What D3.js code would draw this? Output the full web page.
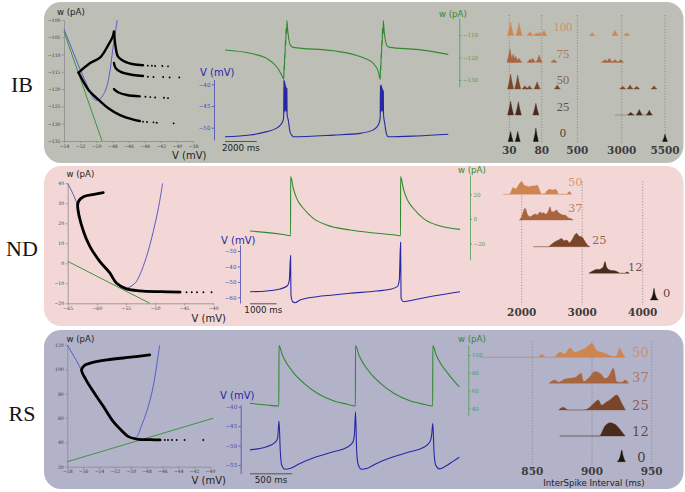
<!DOCTYPE html>
<html><head><meta charset="utf-8">
<script src="https://cdn.jsdelivr.net/npm/d3@7/dist/d3.min.js"></script>
<style>html,body{margin:0;padding:0;background:#fff;}svg{display:block;}</style>
</head><body>
<svg id="chart" width="685" height="492"></svg>
<script>
// ================= DATA =================
const rowNames = ["IB", "ND", "RS"];
const noiseIB = ["100", "75", "50", "25", "0"];
const noiseNDRS = ["50", "37", "25", "12", "0"];

// ---- phase-plane ticks ----
const ibPhaseXTicks = [-54, -52, -50, -48, -46, -44, -42, -40, -38];
const ibPhaseYTicks = [-100, -105, -110, -115, -120, -125, -130, -135];
const ndPhaseXTicks = [-65, -60, -55, -50, -45, -40];
const ndPhaseYTicks = [40, 30, 20, 10, 0, -10, -20];
const rsPhaseXTicks = [-58, -56, -54, -52, -50, -48, -46, -44, -42, -40];
const rsPhaseYTicks = [120, 100, 80, 60, 40, 20];

// ---- IB phase plane [V (mV), w (pA)] ----
const ibVNull = [[-54, -102.7], [-53, -108.5], [-52, -114.3], [-51.2, -118.5], [-50.6, -121.6], [-50.1, -123.2], [-49.6, -123], [-49.1, -121.5], [-48.7, -119.3], [-48.3, -114.8], [-47.96, -108.7], [-47.65, -104], [-47.4, -100]];
const ibWNull = [[-54, -103.4], [-49.28, -135]];
const ibTrajUpper = [[-47.8, -103.4], [-47.96, -104.8], [-48.5, -107.2], [-49.5, -110.8], [-50.8, -112.5], [-52.2, -115.2]];
const ibTrajLower = [[-52.2, -115.2], [-51.6, -117.8], [-50.8, -120.7], [-49.7, -123.1], [-48.5, -125.5], [-47.05, -127.5], [-45.4, -128.8], [-44.6, -129.2]];
const ibBranch1 = [[-47.8, -103.4], [-47.6, -107.7], [-47.3, -110.6], [-46.4, -112.1], [-45.4, -112.8], [-44.2, -113.1]];
const ibBranch2 = [[-47.8, -112.4], [-47.6, -113.9], [-46.9, -115.1], [-45.4, -115.9], [-44.2, -116.2]];
const ibBranch3 = [[-47.8, -120], [-47.3, -120.9], [-46.2, -121.7], [-44.6, -122.1]];
const ibDots = [[-44.2, -129.4], [-43.7, -129.5], [-42.9, -129.6], [-42.5, -129.7], [-40.4, -129.9],
  [-43.6, -113.2], [-43.1, -113.2], [-42.7, -113.3], [-41.8, -113.3], [-41.1, -113.4],
  [-43.6, -116.4], [-42.9, -116.5], [-41.7, -116.5], [-40.9, -116.6], [-39.7, -116.6],
  [-43.9, -122.2], [-43.3, -122.3], [-42.7, -122.4], [-41.6, -122.5], [-41.1, -122.6]];

// ---- ND phase plane ----
const ndVNull = [[-65, 40], [-63.35, 29.5], [-62.4, 16.5], [-61.3, 9], [-59.6, 1.2], [-57.9, -4.6], [-56.7, -9.6], [-55.7, -12], [-55.1, -12.6], [-54.3, -11.8], [-53.3, -9.5], [-52.6, -5.7], [-51.5, 3], [-50.3, 16], [-49.4, 28], [-48.7, 40]];
const ndWNull = [[-65, 1], [-50.9, -20]];
const ndTraj = [[-58.9, 35.3], [-60.5, 34.5], [-62.3, 33.3], [-63.1, 31.2], [-63.3, 29], [-62.3, 16], [-61.2, 8.5], [-59.5, 1], [-57.8, -4.7], [-56.6, -10], [-54.9, -12.8], [-52.6, -13.8], [-49.1, -14.2], [-45.7, -14.4]];
const ndDots = [[-44.6, -14.5], [-43.7, -14.5], [-42.8, -14.5], [-41.7, -14.5], [-40.3, -14.5]];

// ---- RS phase plane ----
const rsVNull = [[-58, 120], [-56.5, 103], [-55.7, 92], [-54.8, 82], [-53.6, 70.5], [-52.3, 57.5], [-51.3, 50.5], [-50.5, 46], [-49.8, 43.6], [-49.3, 44.2], [-48.6, 54.2], [-48, 65], [-47.3, 81.6], [-46.8, 100], [-46.35, 120]];
const rsWNull = [[-58, 24.1], [-39.6, 59.8]];
const rsTraj = [[-47.6, 111.8], [-50, 110], [-53, 107.7], [-55, 105.3], [-55.75, 103.6], [-56.2, 99.5], [-55.6, 91], [-54.7, 81.6], [-53.5, 70], [-52.2, 57], [-51.2, 50], [-50.3, 44.7], [-49, 42.5], [-47.5, 42.2], [-46.3, 42]];
const rsDots = [[-45.7, 42], [-45.3, 42], [-44.8, 42], [-44.2, 42], [-43.2, 42], [-40.85, 42]];

// ---- voltage / adaptation traces [t (ms), value] ----
const ibVTicks = [-40, -45, -50];
const ibWTicks = [-110, -120, -130];
const ibV = [[0, -52.1], [1577, -51.7], [2630, -50.9], [3262, -50.1], [3577, -49], [3700, -47.8],
  [3720, -39], [3732, -46.5], [3760, -39.3], [3772, -46.2], [3800, -39.8], [3812, -46], [3850, -40.5], [3862, -46.3], [3905, -41], [3918, -47],
  [3990, -48.2], [4100, -50.9], [4250, -51.9], [4310, -52.1], [6834, -51.7], [8519, -51.3], [9358, -50.5], [9674, -49.4], [9790, -47.8],
  [9808, -40.2], [9820, -46.5], [9848, -40.2], [9860, -46.2], [9888, -40.5], [9900, -46], [9938, -41], [9950, -46.3], [9990, -41.5], [10003, -47],
  [10080, -49], [10180, -51.3], [10305, -52.1], [12096, -51.9], [14090, -51.5]];
const ibW = [[0, -116.7], [1577, -118.1], [2630, -120.4], [3262, -124.1], [3577, -127.8], [3715, -129.6],
  [3722, -123.5], [3755, -125.5], [3762, -118], [3795, -120], [3802, -112.5], [3840, -114.5], [3847, -107], [3895, -109.5], [3905, -103.6],
  [3960, -108], [4030, -112], [4120, -114.5], [4310, -115.5], [6834, -117], [8519, -119.6], [9358, -122.6], [9674, -126.3], [9800, -129.7],
  [9808, -123.5], [9840, -125.5], [9848, -118], [9880, -120], [9888, -112.5], [9925, -114.5], [9932, -107], [9978, -109.5], [9988, -103.6],
  [10040, -108], [10110, -112], [10200, -114.5], [10400, -115.5], [12096, -116.4], [14090, -118.6]];

const ndVTicks = [-30, -40, -50, -60];
const ndWTicks = [20, 0, -20];
const ndV = [[0, -56.4], [627, -55.9], [1128, -54.6], [1404, -52.5], [1479, -48.8], [1526, -33], [1540, -58.5], [1605, -62.9], [1692, -63.5], [1880, -61.8], [2508, -59.6], [3133, -58.5], [3760, -57.4], [4764, -55.9], [5264, -54.8], [5539, -53.1], [5614, -48.8], [5662, -24.4], [5680, -60.7], [5790, -62.9], [5952, -62.4], [6892, -59.2], [7896, -56.4]];
const ndW = [[0, -10], [1504, -13.8], [1526, -13.9], [1528, 34.4], [1628, 24.9], [1755, 16.7], [2004, 8.6], [2380, 0.4], [2884, -5.1], [3760, -9.1], [4764, -11.8], [5614, -13.8], [5660, -14], [5662, 34.4], [5764, 24.9], [5891, 16.7], [6140, 8.6], [6516, 0.4], [7020, -5.1], [7896, -8.6]];

const rsVTicks = [-40, -45, -50, -55];
const rsWTicks = [100, 80, 60, 40];
const rsV = [[0, -51.1], [198, -50.3], [298, -49.2], [329, -48.1], [345, -43.7], [361, -51.6], [377, -55], [417, -56.1], [476, -55.9], [595, -54.6], [793, -52.9], [992, -51.6], [1150, -50.5], [1222, -49.2], [1242, -47.3], [1256, -41.3], [1270, -51.6], [1289, -55], [1329, -56.1], [1388, -55.9], [1507, -54.6], [1706, -52.9], [1904, -51.6], [2063, -50.5], [2142, -49], [2162, -47.3], [2176, -44.3], [2190, -51.6], [2210, -55], [2253, -56], [2321, -55.4], [2420, -54], [2491, -53]];
const rsW = [[0, 45.6], [198, 43.7], [343, 42.6], [345, 110.5], [385, 100], [444, 89.5], [523, 79.4], [643, 68.1], [801, 56.9], [1000, 48.2], [1158, 44.5], [1254, 42.6], [1256, 110.5], [1296, 100], [1355, 89.5], [1434, 79.4], [1554, 68.1], [1712, 56.9], [1911, 48.2], [2069, 44.5], [2174, 42.6], [2176, 110.5], [2216, 100], [2275, 89.5], [2354, 79.4], [2491, 64]];

const scaleBarsMs = [2000, 1000, 500];

// ---- ISI histograms ----
const ibIsiTicks = [30, 80, 500, 3000, 5500];
const ndIsiTicks = [2000, 3000, 4000];
const rsIsiTicks = [850, 900, 950];

// IB: peaks [ISI (ms), density 0-100]
const ibPeaks100 = [[32, 89], [45, 84], [62, 27], [72, 18], [77, 22], [107, 33], [1330, 18], [2620, 36], [3290, 18]];
const ibPeaks75 = [[31, 89], [36, 55], [40, 40], [45, 27], [62, 22], [66, 27], [76, 49], [225, 18], [2060, 18], [2302, 27], [2620, 18], [2944, 18]];
const ibPeaks50 = [[32, 100], [43, 93], [54, 22], [61, 22], [73, 49], [264, 27], [3058, 18], [3479, 27], [3866, 18], [4865, 22]];
const ibPeaks25 = [[32, 93], [44, 89], [71, 78], [3519, 18], [4015, 36], [4592, 31]];
const ibPeaks0 = [[32, 67], [43, 67], [71, 89], [5500, 49]];
const ibTails = [null, [1780, 3000], null, [2620, 4740], null];
const ibLabelAt = [[331, 27], [331, 32], [331, 33], [331, 27], [331, 27]];

// ND: ridge outlines [ISI (ms), density]
const ndHist50 = [[1696, 0], [1795, 0], [1861, 45], [1900, 35], [1944, 60], [2000, 85], [2040, 60], [2083, 55], [2120, 50], [2165, 55], [2210, 55], [2248, 62], [2280, 45], [2303, 20], [2331, 0], [2386, 5], [2420, 25], [2468, 33], [2510, 28], [2551, 33], [2590, 20], [2605, 0], [2744, 0], [2787, 18], [2826, 0]];
const ndHist37 = [[1960, 0], [1990, 15], [2055, 78], [2100, 35], [2137, 22], [2175, 30], [2220, 40], [2260, 35], [2303, 55], [2330, 45], [2358, 49], [2400, 40], [2440, 60], [2468, 89], [2495, 55], [2523, 55], [2550, 60], [2578, 67], [2605, 50], [2633, 44], [2670, 35], [2716, 33], [2770, 15], [2826, 7], [2853, 0]];
const ndHist25 = [[2192, 0], [2440, 0], [2468, 8], [2520, 25], [2551, 33], [2610, 45], [2661, 55], [2700, 40], [2744, 44], [2787, 27], [2830, 45], [2870, 75], [2908, 89], [2950, 70], [2991, 67], [3040, 40], [3074, 18], [3129, 0]];
const ndHist12 = [[3110, 0], [3157, 12], [3200, 20], [3240, 27], [3280, 25], [3322, 33], [3350, 45], [3377, 78], [3400, 45], [3432, 27], [3470, 20], [3515, 18], [3598, 7], [3625, 0], [3700, 0], [3737, 9], [3780, 0]];
const ndHist0 = [[4121, 0], [4170, 40], [4187, 78], [4205, 40], [4258, 0]];
const ndLabelAt = [[2765, 55], [2765, 55], [3162, 18], [3757, 15], [4336, 22]];

// RS: ridge outlines
const rsHist50 = [[806, 0], [853, 0], [855, 2], [858, 18], [861.5, 0], [868, 0], [873, 33], [877, 22], [881.6, 62], [885.8, 33], [890, 44], [895.6, 67], [899.8, 93], [904, 44], [908, 33], [912, 22], [918, 5], [920.7, 10], [923, 62], [926, 20], [927.7, 0]];
const rsHist37 = [[864, 0], [869, 22], [872, 7], [877, 27], [881.6, 33], [887, 44], [890.8, 67], [893, 11], [897, 33], [902.5, 78], [906.7, 67], [911, 33], [913.7, 44], [918, 100], [920.7, 11], [925, 7], [927.7, 22], [930.5, 0]];
const rsHist25 = [[872, 0], [876, 18], [880, 0], [893, 0], [897, 11], [901, 40], [905.3, 67], [908, 33], [912.4, 55], [915, 67], [920.7, 100], [925, 44], [928, 0]];
const rsHist12 = [[873, 0], [906, 0], [910.9, 67], [915.1, 89], [919.3, 78], [923.5, 44], [927.7, 0]];
const rsHist0 = [[921.2, 0], [923.8, 40], [924.9, 78], [926, 40], [928, 0]];
const rsLabelAt = [[933.6, 3], [933.6, 7], [933.6, 3], [933.6, 3], [937.8, 0]];

// ================= DRAWING =================
const svg = d3.select("#chart");
const SANS = "DejaVu Sans", SERIF = "DejaVu Serif";
const COL = { vnull: "#5a5ac8", wnull: "#3e943e", vtrace: "#2626a6", wtrace: "#2f8a2f", vaxis: "#4848b8", waxis: "#4f9c4f" };
const panelFill = ["#bdbfb7", "#f3d7d6", "#b2b3c8"];
const panelY = [[2, 163], [166, 326], [330, 489]];
const ridgeFill = ["#cf8551", "#a9653f", "#7b4529", "#4b2b1b", "#1d130d"];

// panels
panelY.forEach((py, i) => {
  svg.append("rect").attr("x", 44).attr("y", py[0]).attr("width", 639.5).attr("height", py[1] - py[0])
    .attr("rx", 17).attr("fill", panelFill[i]);
});
// row names
const rowLabelY = [92, 256, 421];
rowNames.forEach((n, i) => {
  svg.append("text").attr("x", 22).attr("y", rowLabelY[i]).attr("text-anchor", "middle")
    .attr("font-family", "Liberation Serif").attr("font-size", 22).attr("fill", "#151515").text(n);
});

const fmtInt = d3.format("d");

function styleAxis(a, color, fam, size) {
  a.attr("font-family", null).attr("font-size", null);
  a.selectAll("path, line").attr("stroke", color).attr("stroke-width", 0.8);
  a.selectAll("text").attr("font-family", fam).attr("font-size", size).attr("fill", color === "#8a8a8a" ? "#3a3a3a" : color);
}

function phasePlane(L, xt, yt, vNull, wNull, trajs, dots, lw) {
  const x = d3.scaleLinear().domain([xt[0], xt[xt.length - 1]]).range(L.xr);
  const y = d3.scaleLinear().domain([yt[yt.length - 1], yt[0]]).range(L.yr);
  const g = svg.append("g");
  const xa = g.append("g").attr("transform", `translate(0,${L.yr[0]})`)
    .call(d3.axisBottom(x).tickValues(xt).tickSize(2).tickSizeOuter(0).tickPadding(1.5).tickFormat(fmtInt));
  const ya = g.append("g").attr("transform", `translate(${L.xr[0]},0)`)
    .call(d3.axisLeft(y).tickValues(yt).tickSize(2).tickSizeOuter(0).tickPadding(1.5).tickFormat(fmtInt));
  styleAxis(xa, "#8a8a8a", SERIF, 4.6);
  styleAxis(ya, "#8a8a8a", SERIF, 4.6);
  const line = d3.line().x(d => x(d[0])).y(d => y(d[1])).curve(d3.curveCatmullRom.alpha(0.5));
  g.append("path").attr("d", line(wNull)).attr("fill", "none").attr("stroke", COL.wnull).attr("stroke-width", 1);
  g.append("path").attr("d", line(vNull)).attr("fill", "none").attr("stroke", COL.vnull).attr("stroke-width", 1);
  trajs.forEach(t => g.append("path").attr("d", line(t)).attr("fill", "none").attr("stroke", "#000")
    .attr("stroke-width", lw).attr("stroke-linecap", "round").attr("stroke-linejoin", "round"));
  g.selectAll(null).data(dots).join("circle").attr("cx", d => x(d[0])).attr("cy", d => y(d[1])).attr("r", 0.95).attr("fill", "#000");
  g.append("text").attr("x", L.wLab[0]).attr("y", L.wLab[1]).attr("font-family", SANS).attr("font-size", 8.6).attr("fill", "#222").text("w (pA)");
  g.append("text").attr("x", L.vLab[0]).attr("y", L.vLab[1]).attr("font-family", SANS).attr("font-size", 10).attr("fill", "#222").text("V (mV)");
}

phasePlane({ xr: [64, 193], yr: [141, 20], wLab: [57, 14.5], vLab: [172, 158.5] }, ibPhaseXTicks, ibPhaseYTicks,
  ibVNull, ibWNull, [ibTrajUpper, ibTrajLower, ibBranch1, ibBranch2, ibBranch3], ibDots, 2.4);
phasePlane({ xr: [67.7, 213.3], yr: [303.3, 183.3], wLab: [66.5, 176.5], vLab: [191.5, 321.5] }, ndPhaseXTicks, ndPhaseYTicks,
  ndVNull, ndWNull, [ndTraj], ndDots, 2.8);
phasePlane({ xr: [67.3, 210], yr: [466.7, 345], wLab: [66.5, 341.5], vLab: [191.5, 483.5] }, rsPhaseXTicks, rsPhaseYTicks,
  rsVNull, rsWNull, [rsTraj], rsDots, 2.8);

function tracePanel(L, vData, wData, vTicks, wTicks, barMs) {
  const x = d3.scaleLinear().domain(L.td).range(L.tr);
  const yv = d3.scaleLinear().domain(L.vd).range(L.vr);
  const yw = d3.scaleLinear().domain(L.wd).range(L.wr);
  const yvA = yv.copy().domain(L.vExt).range(L.vExt.map(yv));
  const ywA = yw.copy().domain(L.wExt).range(L.wExt.map(yw));
  const g = svg.append("g");
  const va = g.append("g").attr("transform", `translate(${L.vAx},0)`)
    .call(d3.axisLeft(yvA).tickValues(vTicks).tickSize(2).tickSizeOuter(0).tickPadding(1.5).tickFormat(fmtInt));
  styleAxis(va, COL.vaxis, SERIF, 5.6);
  const wa = g.append("g").attr("transform", `translate(${L.wAx},0)`)
    .call(d3.axisRight(ywA).tickValues(wTicks).tickSize(2).tickSizeOuter(0).tickPadding(1.5).tickFormat(fmtInt));
  styleAxis(wa, COL.waxis, SERIF, 5.6);
  const lv = d3.line().x(d => x(d[0])).y(d => yv(d[1])).curve(d3.curveMonotoneX);
  const lw = d3.line().x(d => x(d[0])).y(d => yw(d[1])).curve(d3.curveMonotoneX);
  g.append("path").attr("d", lw(wData)).attr("fill", "none").attr("stroke", COL.wtrace).attr("stroke-width", 1.1);
  g.append("path").attr("d", lv(vData)).attr("fill", "none").attr("stroke", COL.vtrace).attr("stroke-width", 1.1);
  g.append("text").attr("x", L.vLab[0]).attr("y", L.vLab[1]).attr("font-family", SANS).attr("font-size", 10).attr("fill", COL.vtrace).text("V (mV)");
  g.append("text").attr("x", L.wLab[0]).attr("y", L.wLab[1]).attr("font-family", SANS).attr("font-size", 8.6).attr("fill", COL.wtrace).text("w (pA)");
  const x0 = x(L.td[0]), x1 = x(L.td[0] + barMs);
  g.append("line").attr("x1", x0).attr("x2", x1).attr("y1", L.barY).attr("y2", L.barY).attr("stroke", "#555").attr("stroke-width", 1);
  g.append("text").attr("x", (x0 + x1) / 2).attr("y", L.barY + 9).attr("text-anchor", "middle")
    .attr("font-family", SANS).attr("font-size", 8.7).attr("fill", "#222").text(barMs + " ms");
}

tracePanel({ td: [0, 14090], tr: [225, 448.3], vd: [-50, -40], vr: [127.7, 84.3], vExt: [-52.8, -38.9], vAx: 214,
  wd: [-130, -110], wr: [80, 35], wExt: [-133.1, -102.4], wAx: 459.3, vLab: [200, 76], wLab: [439, 16.5], barY: 141.5 },
  ibV, ibW, ibVTicks, ibWTicks, scaleBarsMs[0]);
tracePanel({ td: [0, 7896], tr: [250, 460], vd: [-60, -30], vr: [297.3, 251], vExt: [-63.7, -26], vAx: 240,
  wd: [-20, 20], wr: [243.3, 194.3], wExt: [-33.5, 35.8], wAx: 470, vLab: [221, 244], wLab: [458, 172.5], barY: 303.8 },
  ndV, ndW, ndVTicks, ndWTicks, scaleBarsMs[1]);
tracePanel({ td: [0, 2491], tr: [250, 459.3], vd: [-55, -40], vr: [465, 406.7], vExt: [-57.2, -39.5], vAx: 240.7,
  wd: [40, 100], wr: [408.3, 355], wExt: [32, 111], wAx: 468.3, vLab: [220, 399], wLab: [458, 341.5], barY: 473.8 },
  rsV, rsW, rsVTicks, rsWTicks, scaleBarsMs[2]);

// ---- histograms ----
const hScale = d3.scaleLinear().domain([0, 100]).range([0, 15]);

function isiAxis(g, x, ticks, L) {
  ticks.forEach(t => {
    g.append("line").attr("x1", x(t)).attr("x2", x(t)).attr("y1", L.dot[0]).attr("y2", L.dot[1])
      .attr("stroke", "#7a7a7a").attr("stroke-width", 0.8).attr("stroke-dasharray", "1,1.8");
    g.append("text").attr("x", x(t)).attr("y", L.tickY).attr("text-anchor", "middle")
      .attr("font-family", SERIF).attr("font-weight", "bold").attr("font-size", 10.5).attr("fill", "#3c3c3c").text(t);
  });
}

function rowLabel(g, x, L, i, at, txt, anchor, fam, size) {
  g.append("text").attr("x", x(at[0])).attr("y", L.base[i] - hScale(at[1])).attr("text-anchor", anchor)
    .attr("font-family", fam).attr("font-size", size).attr("fill", ridgeFill[i]).attr("fill-opacity", 0.78).text(txt);
}

// IB (broken axis)
(function () {
  const L = { xr: [509.3, 541.7, 577.3, 621.7, 665], base: [35.5, 62.3, 89, 115, 141.5], dot: [15, 143], tickY: 154 };
  const x = d3.scaleLinear().domain(ibIsiTicks).range(L.xr);
  const g = svg.append("g");
  isiAxis(g, x, ibIsiTicks, L);
  const rows = [ibPeaks100, ibPeaks75, ibPeaks50, ibPeaks25, ibPeaks0];
  rows.forEach((peaks, i) => {
    const b = L.base[i];
    if (ibTails[i]) {
      g.append("line").attr("x1", x(ibTails[i][0])).attr("x2", x(ibTails[i][1])).attr("y1", b).attr("y2", b)
        .attr("stroke", ridgeFill[i]).attr("stroke-opacity", 0.5).attr("stroke-width", 0.6);
    }
    peaks.forEach(p => {
      const cx = x(p[0]), top = b - hScale(p[1]), hw = i === 4 ? 2.5 : 3;
      const hh = b - top;
      const d = `M${cx - hw},${b} Q${cx - hw * 0.35},${b - hh * 0.5} ${cx},${top} Q${cx + hw * 0.35},${b - hh * 0.5} ${cx + hw},${b} Z`;
      g.append("path").attr("d", d).attr("fill", ridgeFill[i]).attr("stroke", ridgeFill[i]).attr("stroke-width", 0.4);
    });
    rowLabel(g, x, L, i, ibLabelAt[i], noiseIB[i], "middle", "Liberation Serif", 12.5);
  });
})();

function ridgePanel(L, ticks, rows, labelAt, fam, size) {
  const x = d3.scaleLinear().domain(L.xd).range(L.xr);
  const g = svg.append("g");
  isiAxis(g, x, ticks, L);
  rows.forEach((pts, i) => {
    const b = L.base[i];
    const area = d3.area().x(d => x(d[0])).y0(b).y1(d => b - hScale(d[1])).curve(d3.curveMonotoneX);
    g.append("path").attr("d", area(pts)).attr("fill", ridgeFill[i]).attr("stroke", ridgeFill[i])
      .attr("stroke-width", 0.5).attr("stroke-opacity", 0.7).attr("stroke-linejoin", "round");
    rowLabel(g, x, L, i, labelAt[i], noiseNDRS[i], "start", fam, size);
  });
  return g;
}

ridgePanel({ xd: [2000, 4000], xr: [521.7, 642.7], base: [194.3, 220, 246.7, 273.3, 300], dot: [181.5, 305], tickY: 315.5 },
  ndIsiTicks, [ndHist50, ndHist37, ndHist25, ndHist12, ndHist0], ndLabelAt, SERIF, 11.5);
const rsG = ridgePanel({ xd: [850, 950], xr: [532.3, 651.7], base: [357.3, 383.3, 410, 436, 461.7], dot: [341.5, 465], tickY: 474.5 },
  rsIsiTicks, [rsHist50, rsHist37, rsHist25, rsHist12, rsHist0], rsLabelAt, SERIF, 13);
rsG.append("text").attr("x", 594).attr("y", 486).attr("text-anchor", "middle").attr("font-family", SANS)
  .attr("font-size", 8.6).attr("fill", "#222").text("InterSpike Interval (ms)");
</script>
</body></html>
